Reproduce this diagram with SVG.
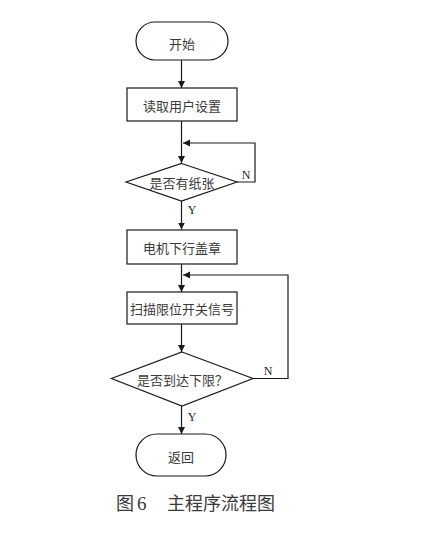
<svg xmlns="http://www.w3.org/2000/svg" width="444" height="535" viewBox="0 0 444 535">
<style>
.shape{fill:#fff;stroke:#1a1a1a;stroke-width:1.2}
.conn{fill:none;stroke:#1a1a1a;stroke-width:1.2}
.lbl{font-family:"Noto Sans CJK SC","Noto Sans",sans-serif;font-size:13px;fill:#3a3a3a;text-anchor:middle;dominant-baseline:central}
.yn{font-family:"Liberation Serif",serif;font-size:12px;fill:#222;text-anchor:middle;dominant-baseline:central}
.cap{font-family:"Noto Sans CJK SC","Noto Sans",sans-serif;font-size:18px;fill:#3a3a3a;font-weight:400}
.num{font-family:"Liberation Serif",serif;font-size:19px}
</style>
<defs>
<marker id="arr" markerWidth="8" markerHeight="8" refX="7" refY="3.5" orient="auto" markerUnits="userSpaceOnUse">
<path d="M0,0 L7,3.5 L0,7 Z" fill="#1a1a1a"/>
</marker>
</defs>
<rect width="444" height="535" fill="#fff"/>
<g id="connectors">
<path class="conn" d="M181.5 60 V88" marker-end="url(#arr)"/>
<path class="conn" d="M181.5 121 V163" marker-end="url(#arr)"/>
<path class="conn" d="M237 182 H255 V143 H183" marker-end="url(#arr)"/>
<path class="conn" d="M181.5 201 V229.5" marker-end="url(#arr)"/>
<path class="conn" d="M181.5 264 V292" marker-end="url(#arr)"/>
<path class="conn" d="M253 378.5 H288 V275 H183" marker-end="url(#arr)"/>
<path class="conn" d="M181.5 324 V352" marker-end="url(#arr)"/>
<path class="conn" d="M181.5 406 V434" marker-end="url(#arr)"/>
<text class="yn" x="246" y="175">N</text>
<text class="yn" x="192" y="210">Y</text>
<text class="yn" x="268" y="371">N</text>
<text class="yn" x="192" y="417">Y</text>
</g>
<g id="start">
<rect class="shape" x="136" y="22" width="92" height="38" rx="19" ry="19"/>
<text class="lbl" x="182" y="43">开始</text>
</g>
<g id="read-settings">
<rect class="shape" x="127" y="88" width="110" height="33"/>
<text class="lbl" x="182" y="105.5">读取用户设置</text>
</g>
<g id="paper-check">
<polygon class="shape" points="181.5,163.5 237,182 181.5,201 126,182"/>
<text class="lbl" x="182" y="182.5">是否有纸张</text>
</g>
<g id="motor-down">
<rect class="shape" x="127" y="230" width="110" height="34"/>
<text class="lbl" x="182" y="247">电机下行盖章</text>
</g>
<g id="scan-limit">
<rect class="shape" x="127" y="292" width="110" height="32"/>
<text class="lbl" x="182" y="308.5">扫描限位开关信号</text>
</g>
<g id="limit-check">
<polygon class="shape" points="182,352 253,378.5 182,406 111.5,378.5"/>
<text class="lbl" x="182.5" y="379">是否到达下限？</text>
</g>
<g id="end">
<rect class="shape" x="136" y="434" width="90" height="42" rx="21" ry="21"/>
<text class="lbl" x="181" y="456">返回</text>
</g>
<text class="cap" y="510"><tspan x="116">图</tspan><tspan class="num" x="137">6</tspan><tspan x="149">　主程序流程图</tspan></text>
</svg>
